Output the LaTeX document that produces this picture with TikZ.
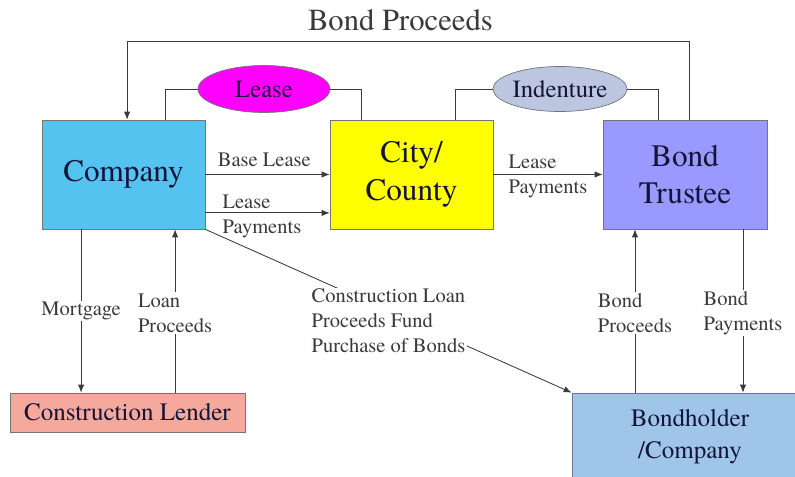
\documentclass[tikz,border=0pt]{standalone}
\usepackage{fontspec}
\setmainfont{texgyretermes-regular.otf}[BoldFont=texgyretermes-bold.otf]
\usetikzlibrary{arrows.meta,shapes.geometric}
\definecolor{ink}{HTML}{141438}
\definecolor{line}{HTML}{3A3A3A}
\definecolor{company}{HTML}{55C3F0}
\definecolor{city}{HTML}{FFFF00}
\definecolor{trustee}{HTML}{9999FF}
\definecolor{lender}{HTML}{F5A89C}
\definecolor{holder}{HTML}{9FC5E8}
\definecolor{lease}{HTML}{FF00FF}
\definecolor{indenture}{HTML}{BDC6E0}

\begin{document}
\begin{tikzpicture}[
  arrow/.style={-{Latex[length=2mm,width=1.6mm]},draw=line,line width=.6pt},
  link/.style={draw=line,line width=.6pt},
  party/.style={draw=line!70,line width=.5pt,align=center,text=ink,
    minimum width=4.075cm,minimum height=2.725cm,
    font=\fontsize{22.2}{27}\selectfont},
  small/.style={font=\fontsize{17.8}{22.8}\selectfont},
  doc/.style={ellipse,draw=line!70,line width=.5pt,text=ink,inner sep=0pt,
    font=\fontsize{17.6}{21}\selectfont},
  tag/.style={font=\fontsize{14.6}{17.8}\selectfont,align=left,
    text=line,inner sep=1pt}
]
  \useasboundingbox (0,0) rectangle (19.875,11.925);
  \fill[white] (0,0) rectangle (19.875,11.925);

  \node[font=\fontsize{21.8}{26}\selectfont,text=line] (title)
    at (10.01,11.42) {Bond Proceeds};
  \node[party,fill=company] (company) at (3.0875,7.5625) {Company};
  \node[party,fill=city] (city) at (10.2875,7.5625) {City/\\County};
  \node[party,fill=trustee,minimum width=4.1cm] (trustee) at (17.125,7.5625)
    {Bond\\Trustee};
  \node[doc,fill=lease,minimum width=3.3cm,minimum height=1.175cm] (lease)
    at (6.6,9.7) {Lease};
  \node[doc,fill=indenture,minimum width=3.35cm,minimum height=1.125cm]
    (indenture) at (14.0,9.7) {Indenture};
  \node[party,small,fill=lender,minimum width=5.875cm,minimum height=.975cm]
    (lender) at (3.1875,1.6125) {Construction Lender};
  \node[party,small,fill=holder,minimum width=5.9cm,minimum height=2.2cm]
    (holder) at (17.25,1.0) {Bondholder\\/Company};

  \draw[link] ([xshift=1.06cm]company.north) |- (lease.west);
  \draw[link] (lease.east) -| ([xshift=-1.24cm]city.north);
  \draw[link] ([xshift=1.09cm]city.north) |- (indenture.west);
  \draw[link] (indenture.east) -| ([xshift=-.675cm]trustee.north);
  \draw[arrow] ([xshift=.1cm]trustee.north) -- ++(0,1.95)
    -| ([xshift=.09cm]company.north);

  \draw[arrow] (company.east) -- (city.west)
    node[tag,midway,above=4pt,xshift=-.08cm] {Base Lease};
  \draw[arrow] ([yshift=-.96cm]company.east) -- ([yshift=-.96cm]city.west)
    node[tag,midway,xshift=-.14cm,yshift=-.1cm] {Lease\\Payments};
  \draw[arrow] (city.east) -- (trustee.west)
    node[tag,midway,yshift=-.05cm] {Lease\\Payments};

  \draw[arrow] ([xshift=-1.06cm]company.south)
    -- ([xshift=-1.06cm]company.south |- lender.north)
    node[tag,midway,fill=white] {Mortgage};
  \draw[arrow] ([xshift=1.29cm]company.south |- lender.north)
    -- ([xshift=1.29cm]company.south)
    node[tag,midway,yshift=-.05cm,fill=white] {Loan\\Proceeds};
  \draw[arrow] (company.south east) -- (holder.north west)
    node[tag,midway,yshift=-.25cm,fill=white]
    {Construction Loan\\Proceeds Fund\\Purchase of Bonds};
  \draw[arrow] ([xshift=-1.25cm]trustee.south |- holder.north)
    -- ([xshift=-1.25cm]trustee.south)
    node[tag,midway,yshift=-.05cm,fill=white] {Bond\\Proceeds};
  \draw[arrow] ([xshift=1.45cm]trustee.south)
    -- ([xshift=1.45cm]trustee.south |- holder.north)
    node[tag,midway,yshift=-.05cm,fill=white] {Bond\\Payments};
\end{tikzpicture}
\end{document}
